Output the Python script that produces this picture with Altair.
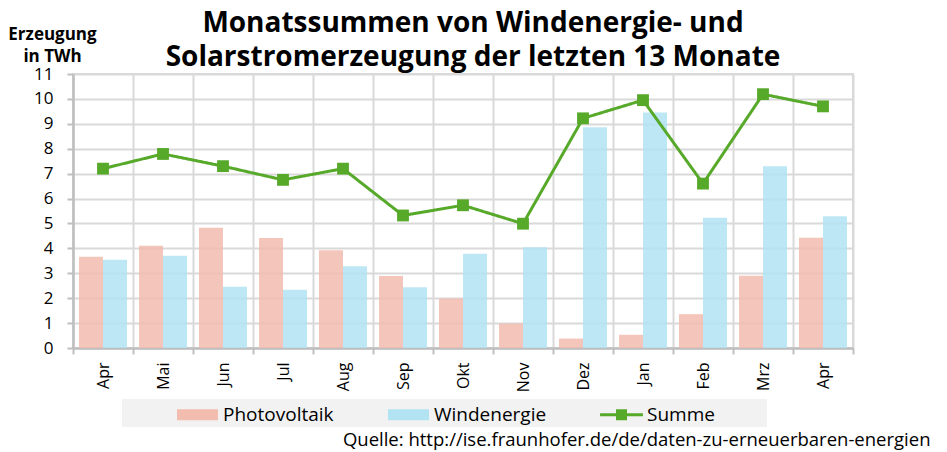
import json
import altair as alt
import pandas as pd

# ---- data ----
months = ["Apr", "Mai", "Jun", "Jul", "Aug", "Sep", "Okt", "Nov", "Dez", "Jan", "Feb", "Mrz", "Apr"]
photovoltaik = [3.66, 4.10, 4.83, 4.42, 3.92, 2.89, 1.99, 0.98, 0.38, 0.53, 1.36, 2.90, 4.43]
windenergie = [3.54, 3.70, 2.46, 2.34, 3.28, 2.44, 3.78, 4.04, 8.86, 9.45, 5.23, 7.30, 5.29]
summe = [7.20, 7.79, 7.30, 6.75, 7.20, 5.32, 5.73, 4.99, 9.22, 9.95, 6.60, 10.19, 9.70]
y_ticks = list(range(0, 12))
series_names = ["Photovoltaik", "Windenergie", "Summe"]

title_lines = ["Monatssummen von Windenergie- und", "Solarstromerzeugung der letzten 13 Monate"]
y_title = ["Erzeugung", "in TWh"]
source = "Quelle: http://ise.fraunhofer.de/de/daten-zu-erneuerbaren-energien"

GREEN = "#57A92A"
PV_BASE, WIND_BASE = "#F2BCAF", "#B2E3F2"
GRID = "#D9D9D9"
AXIS = "#BFBFBF"
LEGEND_BG = "#F2F2F2"
FONT = "Open Sans"

rows = []
for i in range(len(months)):
    rows.append({"idx": i, "series": "Photovoltaik", "value": photovoltaik[i]})
    rows.append({"idx": i, "series": "Windenergie", "value": windenergie[i]})
bars_df = pd.DataFrame(rows)
line_df = pd.DataFrame({"idx": list(range(len(months))), "value": summe, "bg": ["bg"] * len(months)})

label_expr = json.dumps(months) + "[datum.value]"

x_enc = alt.X(
    "idx:O",
    scale=alt.Scale(paddingInner=0, paddingOuter=0),
    axis=alt.Axis(
        labelExpr=label_expr, labelAngle=-90, tickBand="extent",
        labelFont=FONT, labelFontSize=16, labelColor="black", labelPadding=8,
        tickSize=6, tickColor=AXIS, tickWidth=2, domainColor=AXIS, domainWidth=2.5,
        grid=True, gridColor=GRID, gridWidth=2,
        title=source, titleFont=FONT, titleFontSize=18.5, titleFontWeight="normal",
        titleColor="black", titleX=857, titleY=97, titleAlign="right",
        titleAnchor="end", titleBaseline="alphabetic",
    ),
)
y_enc = alt.Y(
    "value:Q",
    scale=alt.Scale(domain=[0, 11], nice=False),
    axis=alt.Axis(
        values=y_ticks, labelFont=FONT, labelFontSize=17, labelColor="black",
        labelPadding=14, tickSize=6, tickColor=AXIS, tickWidth=2,
        domainColor=AXIS, domainWidth=2.5, grid=True, gridColor=GRID, gridWidth=2,
        title=y_title, titleAngle=0, titleAlign="center", titleX=-21, titleY=-35,
        titleBaseline="alphabetic", titleFont=FONT, titleFontSize=17,
        titleFontWeight="bold", titleLineHeight=22, titleColor="black",
    ),
)

rect_path = "M-3.73,-1 H3.73 V1 H-3.73 Z"
summe_path = "M-3.9,-0.27 H3.9 V0.27 H-3.9 Z M-1,-1 H1 V1 H-1 Z"
legend = alt.Legend(
    orient="none", legendX=94, legendY=325, direction="horizontal", columns=3,
    padding=6, title=None, zindex=2,
    labelFont=FONT, labelFontSize=19, labelColor="black",
    symbolSize=121, symbolOffset=15, labelOffset=16, columnPadding=50,
    symbolType={"expr": "datum.value === 'Summe' ? '%s' : '%s'" % (summe_path, rect_path)},
    symbolOpacity={"expr": "datum.value === 'Summe' ? 1 : 0.85"},
    symbolStrokeWidth=0,
)

# grey background strip behind the legend (a second legend with an invisible wide symbol)
pad_legend = alt.Legend(
    orient="none", legendX=49, legendY=325, direction="horizontal",
    padding=6, title=None, zindex=1, fillColor=LEGEND_BG,
    labelExpr="''", labelFontSize=1, labelOffset=0,
    symbolType="M-1,-1 H78.1 V1 H-1 Z", symbolSize=256, symbolOffset=0,
    symbolOpacity=0, symbolStrokeWidth=0,
)

color_scale = alt.Scale(domain=series_names, range=[PV_BASE, WIND_BASE, GREEN])

bars = alt.Chart(bars_df).mark_bar(opacity=0.85).encode(
    x=x_enc,
    xOffset=alt.XOffset("series:N", scale=alt.Scale(domain=series_names[:2], paddingInner=0, paddingOuter=0.25)),
    y=y_enc,
    color=alt.Color("series:N", scale=color_scale, legend=legend),
)

line = alt.Chart(line_df).mark_line(
    strokeWidth=3,
    point=alt.OverlayMarkDef(shape="square", size=140, filled=True, opacity=1),
).encode(
    x=x_enc,
    y=y_enc,
    color=alt.ColorDatum("Summe"),
    strokeDash=alt.StrokeDash("bg:N", scale=alt.Scale(domain=["bg"], range=[[1, 0]]), legend=pad_legend),
)

chart = alt.layer(bars, line).properties(
    width=780, height=274,
    padding={"left": 65, "top": 66, "right": 78, "bottom": 104},
    autosize=alt.AutoSizeParams(type="none"),
    title=alt.TitleParams(
        text=title_lines, font=FONT, fontSize=28, fontWeight="bold", color="black",
        anchor="middle", frame="group", dx=10, dy=57, lineHeight=34, offset=10,
    ),
).configure_view(stroke=GRID, strokeWidth=2)

chart.save("out.html", embed_options={"renderer": "svg", "actions": False})
